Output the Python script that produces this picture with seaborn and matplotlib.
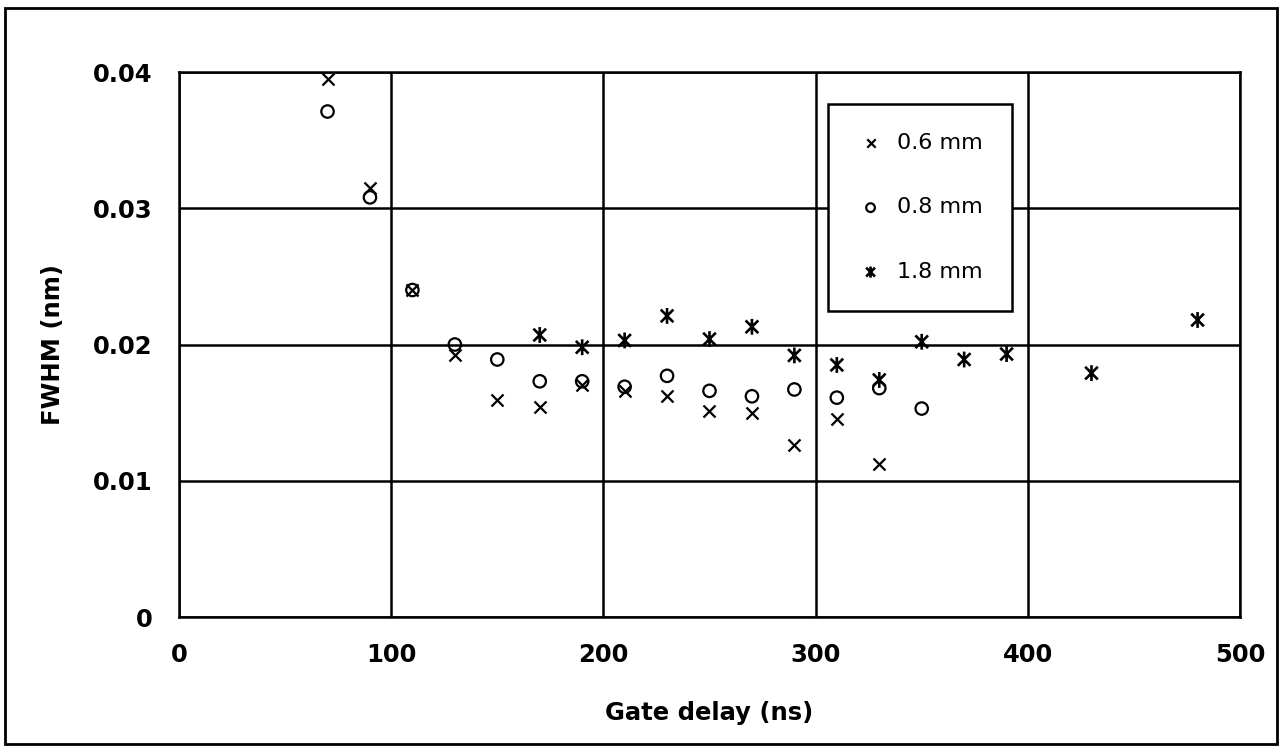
import numpy as np
import pandas as pd
import matplotlib
matplotlib.use("Agg")
import matplotlib.pyplot as plt
from matplotlib.path import Path
from matplotlib.patches import Rectangle
import seaborn as sns

# data
x_06 = [70, 90, 110, 130, 150, 170, 190, 210, 230, 250, 270, 290, 310, 330]
y_06 = [0.0395, 0.0315, 0.0240, 0.0192, 0.0159, 0.0154, 0.0170, 0.0166,
        0.0162, 0.0151, 0.0150, 0.0126, 0.0145, 0.0112]

x_08 = [70, 90, 110, 130, 150, 170, 190, 210, 230, 250, 270, 290, 310, 330, 350]
y_08 = [0.0371, 0.0308, 0.0240, 0.0200, 0.0189, 0.0173, 0.0173, 0.0169,
        0.0177, 0.0166, 0.0162, 0.0167, 0.0161, 0.0168, 0.0153]

x_18 = [170, 190, 210, 230, 250, 270, 290, 310, 330, 350, 370, 390, 430, 480]
y_18 = [0.0207, 0.0198, 0.0203, 0.0221, 0.0204, 0.0213, 0.0192, 0.0185,
        0.0174, 0.0202, 0.0189, 0.0193, 0.0179, 0.0218]

labels = ["0.6 mm", "0.8 mm", "1.8 mm"]
x_ticks = [0, 100, 200, 300, 400, 500]
y_ticks = [0, 0.01, 0.02, 0.03, 0.04]
y_tick_labels = ["0", "0.01", "0.02", "0.03", "0.04"]

sns.set_style("white")
plt.rcParams["font.family"] = ["DejaVu Sans"]
plt.rcParams["text.color"] = "black"
plt.rcParams["axes.labelcolor"] = "black"
plt.rcParams["xtick.color"] = "black"
plt.rcParams["ytick.color"] = "black"

# asterisk-like marker: an x with a vertical bar through it
star = Path([(-0.8, -0.8), (0.8, 0.8), (-0.8, 0.8), (0.8, -0.8), (0, -1), (0, 1)],
            [Path.MOVETO, Path.LINETO, Path.MOVETO, Path.LINETO, Path.MOVETO, Path.LINETO])

fig = plt.figure(figsize=(12.83, 7.5), dpi=100)
ax = fig.add_axes([0.1395, 0.1773, 0.827, 0.7267])

df06 = pd.DataFrame({"delay": x_06, "fwhm": y_06})
df08 = pd.DataFrame({"delay": x_08, "fwhm": y_08})
df18 = pd.DataFrame({"delay": x_18, "fwhm": y_18})

sns.scatterplot(data=df06, x="delay", y="fwhm", marker="x", color="black",
                s=75, linewidth=1.6, label=labels[0], ax=ax, zorder=3)
sns.scatterplot(data=df08, x="delay", y="fwhm", marker="o", facecolor="none",
                edgecolor="black", s=80, linewidth=1.6, label=labels[1], ax=ax, zorder=3)
sns.scatterplot(data=df18, x="delay", y="fwhm", marker=star, facecolor="none",
                edgecolor="black", s=130, linewidth=1.9, label=labels[2], ax=ax, zorder=3)

ax.set_xlim(0, 500)
ax.set_ylim(0, 0.04)
ax.set_xticks(x_ticks)
ax.set_yticks(y_ticks)
ax.set_yticklabels(y_tick_labels)
ax.grid(True, color="black", linewidth=1.8)
ax.set_axisbelow(True)
for sp in ax.spines.values():
    sp.set_color("black")
    sp.set_linewidth(1.8)
ax.tick_params(axis="both", direction="out", length=6, width=1.5, color="black",
               labelsize=17.5, pad=13, labelcolor="black")
for t in ax.get_xticklabels() + ax.get_yticklabels():
    t.set_fontweight("bold")

ax.set_xlabel("Gate delay (ns)", fontsize=17.5, fontweight="bold", labelpad=24, color="black")
ax.set_ylabel("FWHM (nm)", fontsize=17.5, fontweight="bold", labelpad=20, color="black")

leg = ax.legend(loc="upper left", bbox_to_anchor=(0.612, 0.941), frameon=True,
                fancybox=False, edgecolor="black", framealpha=1, fontsize=16,
                markerscale=0.7, handletextpad=0.6, labelspacing=2.0,
                borderpad=1.3, handlelength=1.2, borderaxespad=0)
leg.get_frame().set_linewidth(1.8)
for t in leg.get_texts():
    t.set_color("black")

# outer frame around the whole figure
fig.patches.append(Rectangle((0.004, 0.008), 0.991, 0.981, transform=fig.transFigure,
                             fill=False, edgecolor="black", linewidth=2))

fig.savefig("out.png", dpi=100)
